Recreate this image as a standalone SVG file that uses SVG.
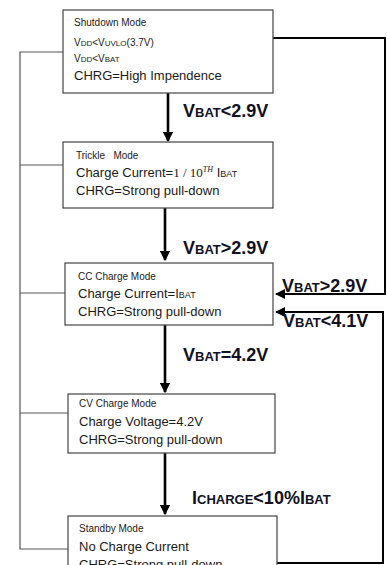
<svg xmlns="http://www.w3.org/2000/svg" width="387" height="565" viewBox="0 0 387 565">
<style>
.box{fill:#fff;stroke:#444;stroke-width:1.2}
.t{font-family:"Liberation Sans",Arial,sans-serif;fill:#1a1a1a}
.s{font-size:10px}
.m{font-size:13px}
.lab{font-family:"Liberation Sans",Arial,sans-serif;font-weight:bold;font-size:18px;fill:#111122}
.sc{font-size:13px}
.ln{fill:none;stroke:#000;stroke-width:2}
.gl{fill:none;stroke:#555;stroke-width:1.2}
.ar{fill:none;stroke:#000;stroke-width:2.6}
</style>
<defs>
<marker id="ah" markerWidth="4" markerHeight="4" refX="3.5" refY="2" orient="auto" markerUnits="strokeWidth">
<path d="M0,0 L4,2 L0,4 z" fill="#000"/>
</marker>
<marker id="ah2" markerWidth="5" markerHeight="5" refX="4.5" refY="2.5" orient="auto" markerUnits="strokeWidth">
<path d="M0,0 L5,2.5 L0,5 z" fill="#000"/>
</marker>
</defs>
<g id="connectors">
<path class="gl" d="M63,52 H20 V549 H68"/>
<path class="gl" d="M20,165 H63"/>
<path class="gl" d="M20,293 H65"/>
<path class="gl" d="M20,413 H68"/>
<path class="ar" d="M168,93 V141" marker-end="url(#ah)"/>
<path class="ar" d="M165,208 V260" marker-end="url(#ah)"/>
<path class="ar" d="M165,325 V392" marker-end="url(#ah)"/>
<path class="ar" d="M165,453 V514" marker-end="url(#ah)"/>
<path class="ln" d="M273,38 H385 V294 H276" marker-end="url(#ah2)"/>
<path class="ln" d="M277,563 H383 V312 H276" marker-end="url(#ah2)"/>
<text class="lab" x="183" y="117">V<tspan class="sc">BAT</tspan>&lt;2.9V</text>
<text class="lab" x="183" y="254">V<tspan class="sc">BAT</tspan>&gt;2.9V</text>
<text class="lab" x="183" y="361">V<tspan class="sc">BAT</tspan>=4.2V</text>
<text class="lab" x="192" y="504">I<tspan class="sc">CHARGE</tspan>&lt;10%I<tspan class="sc">BAT</tspan></text>
<text class="lab" x="282" y="292">V<tspan class="sc">BAT</tspan>&gt;2.9V</text>
<text class="lab" x="283" y="327">V<tspan class="sc">BAT</tspan>&lt;4.1V</text>
</g>
<g id="shutdown">
<rect class="box" x="63" y="10" width="210" height="83"/>
<text class="t s" x="74" y="26">Shutdown Mode</text>
<text class="t" x="74" y="46" font-size="10">V<tspan font-size="8">DD</tspan>&lt;V<tspan font-size="8">UVLO</tspan>(3.7V)</text>
<text class="t" x="74" y="62" font-size="10">V<tspan font-size="8">DD</tspan>&lt;V<tspan font-size="8">BAT</tspan></text>
<text class="t m" x="74" y="80">CHRG=High Impendence</text>
</g>
<g id="trickle">
<rect class="box" x="63" y="142" width="210" height="66"/>
<text class="t s" x="76" y="159" xml:space="preserve">Trickle   Mode</text>
<text class="t m" x="76" y="177">Charge Current=<tspan font-family="Liberation Serif,serif">1 / 10</tspan><tspan font-size="8" font-style="italic" dy="-5" font-family="Liberation Serif,serif">TH</tspan><tspan dy="5" font-size="13"> I</tspan><tspan font-size="9">BAT</tspan></text>
<text class="t m" x="76" y="195">CHRG=Strong pull-down</text>
</g>
<g id="cc">
<rect class="box" x="65" y="263" width="208" height="62"/>
<text class="t s" x="78" y="280">CC Charge Mode</text>
<text class="t m" x="78" y="298">Charge Current=I<tspan font-size="9">BAT</tspan></text>
<text class="t m" x="78" y="316">CHRG=Strong pull-down</text>
</g>
<g id="cv">
<rect class="box" x="68" y="394" width="207" height="59"/>
<text class="t s" x="79" y="407">CV Charge Mode</text>
<text class="t m" x="79" y="426">Charge Voltage=4.2V</text>
<text class="t m" x="79" y="444">CHRG=Strong pull-down</text>
</g>
<g id="standby">
<rect class="box" x="68" y="516" width="209" height="60"/>
<text class="t s" x="79" y="532">Standby Mode</text>
<text class="t m" x="79" y="551">No Charge Current</text>
<text class="t m" x="79" y="569">CHRG=Strong pull-down</text>
</g>
</svg>
